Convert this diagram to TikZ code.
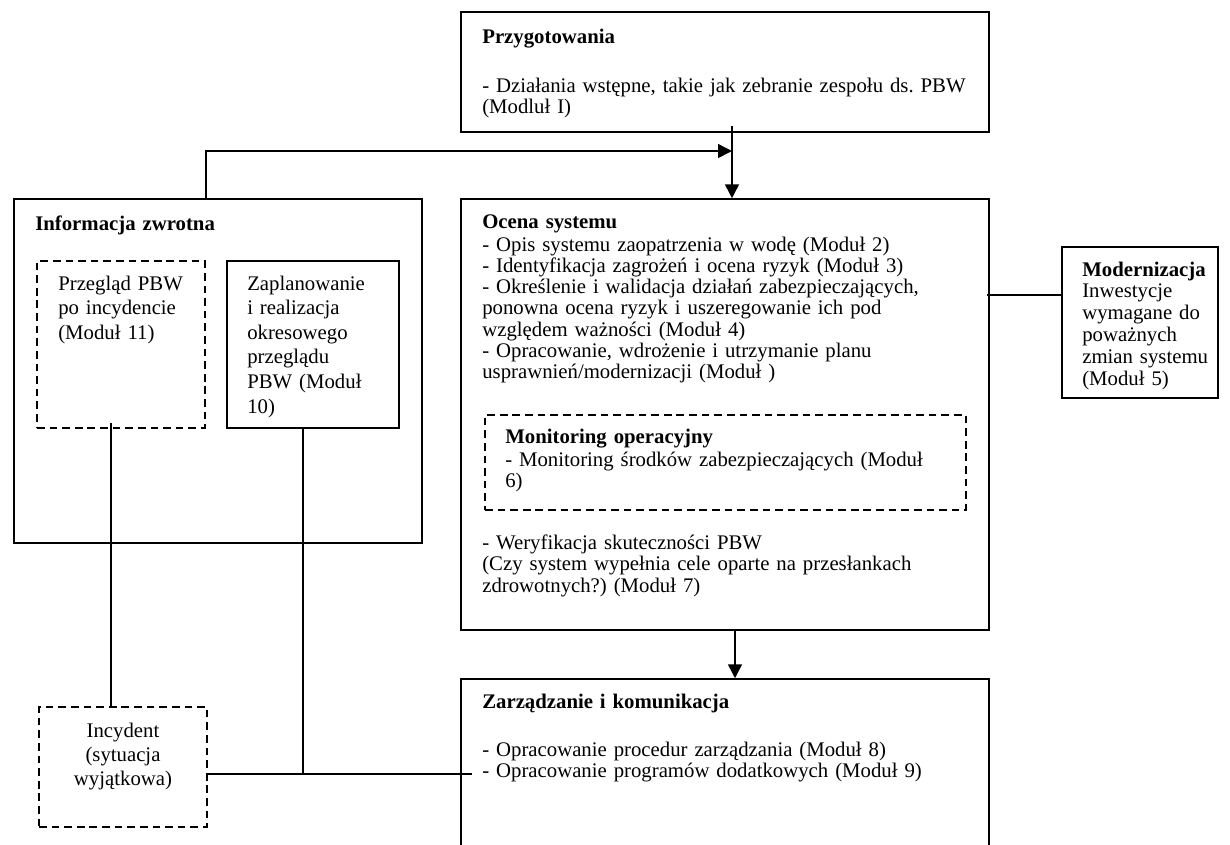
\documentclass[tikz,border=0pt]{standalone}
\usepackage{fontspec}
\setmainfont{Liberation Serif}
\usetikzlibrary{arrows.meta,fit}
\begin{document}
\frenchspacing
\begin{tikzpicture}[x=0.65pt,y=-0.65pt,
  box/.style={draw,line width=1pt,inner sep=0pt},
  dbox/.style={draw,line width=1pt,inner sep=0pt,dash pattern=on 5pt off 3.2pt},
  txt/.style={inner sep=0pt,anchor=base west,text width=14cm,align=left,font=\fontsize{13.5}{13.85}\selectfont},
  txtb/.style={txt,font=\fontsize{13.5}{16}\selectfont},
  txtm/.style={txt,font=\fontsize{13.5}{14.2}\selectfont},
  conn/.style={line width=1pt},
  arr/.style={line width=1pt,-{Triangle[length=9pt,width=9pt]}}]
\useasboundingbox (0,0) rectangle (1230,844);
% boxes
\node (prep) [box,fit={(461,12) (989,132)}] {};
\node (fb) [box,fit={(14,199) (422,543)}] {};
\node (pir) [dbox,fit={(37,261) (205,428)}] {};
\node (plan) [box,fit={(227,261) (399,428)}] {};
\node (ocena) [box,fit={(461,199) (989,630)}] {};
\node (mon) [dbox,fit={(485,415) (966,510)}] {};
\node (mod) [box,fit={(1062,247) (1218,398)}] {};
\node (mgmt) [box,fit={(461,679) (989,900)}] {};
\node (inc) [dbox,fit={(39,707) (207,827)}] {};
% texts
\node[txt] (t1) at (482,43) {\textbf{Przygotowania}};
\node[txt] (t2) at (482,92) {- Działania wstępne, takie jak zebranie zespołu ds. PBW\\(Modluł I)};
\node[txt] (t3) at (35,230) {\textbf{Informacja zwrotna}};
\node[txtb] (t4) at (58,290) {Przegląd PBW\\po incydencie\\(Moduł 11)};
\node[txtb] (t5) at (247,290) {Zaplanowanie\\i realizacja\\okresowego\\przeglądu\\PBW (Moduł\\10)};
\node[txt] (t6) at (482,228) {\textbf{Ocena systemu}};
\node[txt] (t7) at (482,251) {- Opis systemu zaopatrzenia w wodę (Moduł 2)\\- Identyfikacja zagrożeń i ocena ryzyk (Moduł 3)\\- Określenie i walidacja działań zabezpieczających,\\ponowna ocena ryzyk i uszeregowanie ich pod\\względem ważności (Moduł 4)\\- Opracowanie, wdrożenie i utrzymanie planu\\usprawnień/modernizacji (Moduł )};
\node[txt] (t8) at (505,443) {\textbf{Monitoring operacyjny}};
\node[txtm] (t9) at (505,466) {- Monitoring środków zabezpieczających (Moduł\\6)};
\node[txtm] (t10) at (482,549) {- Weryfikacja skuteczności PBW\\(Czy system wypełnia cele oparte na przesłankach\\zdrowotnych?) (Moduł 7)};
\node[txtm] (t11) at (1082,276) {\textbf{Modernizacja}\\Inwestycje\\wymagane do\\poważnych\\zmian systemu\\(Moduł 5)};
\node[txt] (t12) at (482,708) {\textbf{Zarządzanie i komunikacja}};
\node[txt] (t13) at (482,756) {- Opracowanie procedur zarządzania (Moduł 8)\\- Opracowanie programów dodatkowych (Moduł 9)};
\node[inner sep=0pt,anchor=base,text width=110pt,align=center,font=\fontsize{13.5}{15.6}\selectfont] (t14) at (123,737) {Incydent\\(sytuacja\\wyjątkowa)};
% connector coordinates
\coordinate (vtop) at (732,126);
\coordinate (join) at (732,151);
\coordinate (m1) at (987,295);
\coordinate (a2) at (735,630);
\coordinate (d1) at (111,423);
\coordinate (p1) at (303,427);
\coordinate (h1) at (303,774);
\coordinate (h2) at (472,774);
% connectors
\draw[arr] (fb.north -| pir.east) |- (join);
\draw[arr] (vtop) -- (vtop |- ocena.north);
\draw[conn] (m1) -- (m1 -| mod.west);
\draw[arr] (a2) -- (a2 |- mgmt.north);
\draw[conn] (d1) -- (d1 |- inc.north);
\draw[conn] (p1) -- (h1);
\draw[conn] (h1 -| inc.east) -- (h2);
\end{tikzpicture}
\end{document}
